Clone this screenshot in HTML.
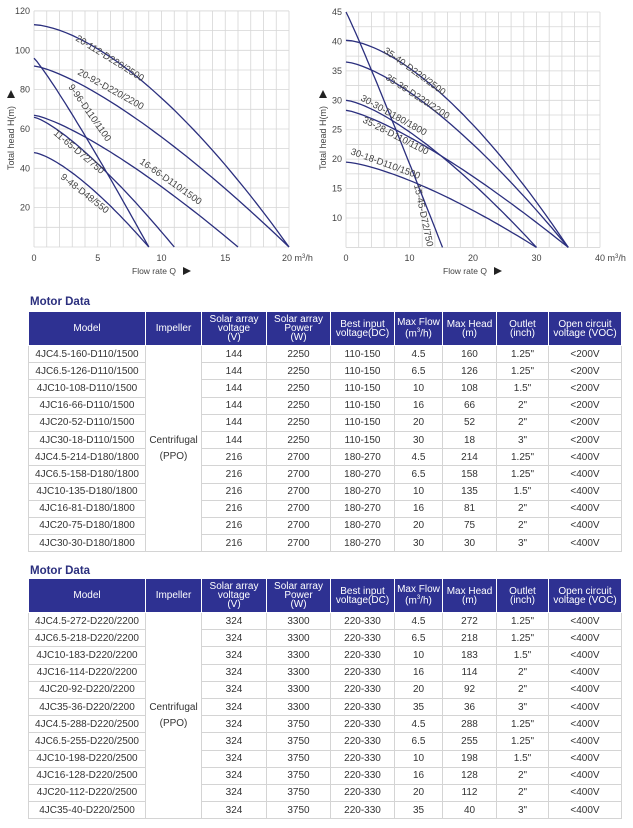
<!DOCTYPE html>
<html><head><meta charset="utf-8">
<style>
body{margin:0;width:633px;height:828px;background:#fff;font-family:"Liberation Sans",sans-serif;overflow:hidden;position:relative}
svg{position:absolute;left:0;top:0}
.title{position:absolute;left:30px;font-weight:bold;font-size:11.5px;color:#2b2f7e}
table{position:absolute;left:28px;border-collapse:collapse;table-layout:fixed;width:593px}
td,th{border:1px solid #d4d4d4;text-align:center;font-size:10px;color:#333;padding:0;height:16.2px;white-space:nowrap;overflow:hidden}
th{background:#2e3192;color:#fff;font-weight:normal;font-size:10px;line-height:9px;height:33px;border-color:#fff}
</style></head><body>
<svg width="633" height="290" id="ch" font-family="Liberation Sans, sans-serif"></svg>
<div class="title" style="top:296px">Motor Data</div>
<table id="t1" style="top:311px"></table>
<div class="title" style="top:565px">Motor Data</div>
<table id="t2" style="top:578px"></table>
<script>
var s='',C='#2b2f7e';
function X1(q){return 34+q*12.75} function Y1(h){return 247-h*1.967}
for(var i=0;i<=20;i++)s+='<line x1="'+X1(i)+'" y1="11" x2="'+X1(i)+'" y2="247" stroke="#d6d6d6" stroke-width="0.8"/>';
for(var h=0;h<=120;h+=10)s+='<line x1="34" y1="'+Y1(h)+'" x2="289" y2="'+Y1(h)+'" stroke="#d6d6d6" stroke-width="0.8"/>';
[20,40,60,80,100,120].forEach(function(v){s+='<text x="30" y="'+(Y1(v)+3)+'" font-size="9" fill="#444" text-anchor="end">'+v+'</text>'});
[0,5,10,15].forEach(function(v){s+='<text x="'+X1(v)+'" y="261" font-size="9" fill="#444" text-anchor="middle">'+v+'</text>'});
s+='<text x="282" y="261" font-size="9" fill="#444">20 m<tspan font-size="6" dy="-3">3</tspan><tspan dy="3">/h</tspan></text>';
s+='<text x="132" y="274" font-size="8.5" fill="#444">Flow rate Q</text><path d="M183 267 l8 4 l-8 4z" fill="#222"/>';
s+='<text transform="translate(14,170) rotate(-90)" font-size="9" fill="#444">Total head H(m)</text><path d="M7 98 l4 -8 l4 8z" fill="#222"/>';
function curve(X,Y,H,Q,k,lo){var d='';for(var j=0;j<=40;j++){var q=Q*j/40,h=lo+(H-lo)*(1-Math.pow(q/Q,k));d+=(j?'L':'M')+X(q).toFixed(1)+' '+Y(h).toFixed(1)}s+='<path d="'+d+'" fill="none" stroke="'+C+'" stroke-width="1.3"/>'}
curve(X1,Y1,113,20,1.6,0);curve(X1,Y1,92,20,1.35,0);curve(X1,Y1,96,9,1.1,0);curve(X1,Y1,67,16,1.3,0);curve(X1,Y1,66,11,1.3,0);curve(X1,Y1,48,9,1.4,0);
function lab(x,y,a,t){s+='<text transform="translate('+x+','+y+') rotate('+a+')" font-size="9.5" fill="#444">'+t+'</text>'}
lab(75,40,32,'20-112-D220/2500');lab(77,74,29,'20-92-D220/2200');lab(68,87,55,'9-96-D110/1100');lab(53,134,40,'11-65-D72/750');lab(139,163,35,'16-66-D110/1500');lab(60,178,38,'9-48-D48/550');
function X2(q){return 346+q*6.35} function Y2(h){return 12+(45-h)*5.886}
for(var i=0;i<=40;i+=2)s+='<line x1="'+X2(i)+'" y1="12" x2="'+X2(i)+'" y2="247.4" stroke="#d6d6d6" stroke-width="0.8"/>';
for(var h=5;h<=45;h+=2.5)s+='<line x1="346" y1="'+Y2(h)+'" x2="600" y2="'+Y2(h)+'" stroke="#d6d6d6" stroke-width="0.8"/>';
[10,15,20,25,30,35,40,45].forEach(function(v){s+='<text x="342" y="'+(Y2(v)+3)+'" font-size="9" fill="#444" text-anchor="end">'+v+'</text>'});
[0,10,20,30].forEach(function(v){s+='<text x="'+X2(v)+'" y="261" font-size="9" fill="#444" text-anchor="middle">'+v+'</text>'});
s+='<text x="595" y="261" font-size="9" fill="#444">40 m<tspan font-size="6" dy="-3">3</tspan><tspan dy="3">/h</tspan></text>';
s+='<text x="443" y="274" font-size="8.5" fill="#444">Flow rate Q</text><path d="M494 267 l8 4 l-8 4z" fill="#222"/>';
s+='<text transform="translate(326,170) rotate(-90)" font-size="9" fill="#444">Total head H(m)</text><path d="M319 98 l4 -8 l4 8z" fill="#222"/>';
curve(X2,Y2,40.2,35,1.6,5);curve(X2,Y2,36.5,35,1.45,5);curve(X2,Y2,30,30,1.4,5);curve(X2,Y2,28.3,35,1.3,5);curve(X2,Y2,19.5,30,1.4,5);curve(X2,Y2,45,15.2,1.05,5);
lab(383,52,36,'35-40-D220/2500');lab(385,79,33,'35-36-D220/2200');lab(360,100,29,'30-30-D180/1800');lab(362,122,27,'35-28-D110/1100');lab(350,154,20,'30-18-D110/1500');lab(414,185,78,'15-45-D72/750');
document.getElementById('ch').innerHTML=s;
var hdr='<colgroup><col style="width:117px"><col style="width:56px"><col style="width:65px"><col style="width:64px"><col style="width:64px"><col style="width:48px"><col style="width:54px"><col style="width:52px"><col style="width:73px"></colgroup><tr><th>Model</th><th>Impeller</th><th>Solar array<br>voltage<br>(V)</th><th>Solar array<br>Power<br>(W)</th><th>Best input<br>voltage(DC)</th><th>Max Flow<br>(m<sup style="font-size:6px">3</sup>/h)</th><th>Max Head<br>(m)</th><th>Outlet<br>(inch)</th><th>Open circuit<br>voltage (VOC)</th></tr>';
function build(id,rows){var h=hdr;rows.forEach(function(r,i){h+='<tr><td>'+r[0]+'</td>'+(i==0?'<td rowspan="12" style="line-height:16px">Centrifugal<br>(PPO)</td>':'')+'<td>'+r.slice(1).join('</td><td>')+'</td></tr>'});document.getElementById(id).innerHTML=h}
build('t1',[
['4JC4.5-160-D110/1500',144,2250,'110-150',4.5,160,'1.25"','&lt;200V'],
['4JC6.5-126-D110/1500',144,2250,'110-150',6.5,126,'1.25"','&lt;200V'],
['4JC10-108-D110/1500',144,2250,'110-150',10,108,'1.5"','&lt;200V'],
['4JC16-66-D110/1500',144,2250,'110-150',16,66,'2"','&lt;200V'],
['4JC20-52-D110/1500',144,2250,'110-150',20,52,'2"','&lt;200V'],
['4JC30-18-D110/1500',144,2250,'110-150',30,18,'3"','&lt;200V'],
['4JC4.5-214-D180/1800',216,2700,'180-270',4.5,214,'1.25"','&lt;400V'],
['4JC6.5-158-D180/1800',216,2700,'180-270',6.5,158,'1.25"','&lt;400V'],
['4JC10-135-D180/1800',216,2700,'180-270',10,135,'1.5"','&lt;400V'],
['4JC16-81-D180/1800',216,2700,'180-270',16,81,'2"','&lt;400V'],
['4JC20-75-D180/1800',216,2700,'180-270',20,75,'2"','&lt;400V'],
['4JC30-30-D180/1800',216,2700,'180-270',30,30,'3"','&lt;400V']]);
build('t2',[
['4JC4.5-272-D220/2200',324,3300,'220-330',4.5,272,'1.25"','&lt;400V'],
['4JC6.5-218-D220/2200',324,3300,'220-330',6.5,218,'1.25"','&lt;400V'],
['4JC10-183-D220/2200',324,3300,'220-330',10,183,'1.5"','&lt;400V'],
['4JC16-114-D220/2200',324,3300,'220-330',16,114,'2"','&lt;400V'],
['4JC20-92-D220/2200',324,3300,'220-330',20,92,'2"','&lt;400V'],
['4JC35-36-D220/2200',324,3300,'220-330',35,36,'3"','&lt;400V'],
['4JC4.5-288-D220/2500',324,3750,'220-330',4.5,288,'1.25"','&lt;400V'],
['4JC6.5-255-D220/2500',324,3750,'220-330',6.5,255,'1.25"','&lt;400V'],
['4JC10-198-D220/2500',324,3750,'220-330',10,198,'1.5"','&lt;400V'],
['4JC16-128-D220/2500',324,3750,'220-330',16,128,'2"','&lt;400V'],
['4JC20-112-D220/2500',324,3750,'220-330',20,112,'2"','&lt;400V'],
['4JC35-40-D220/2500',324,3750,'220-330',35,40,'3"','&lt;400V']]);
</script>
</body></html>
